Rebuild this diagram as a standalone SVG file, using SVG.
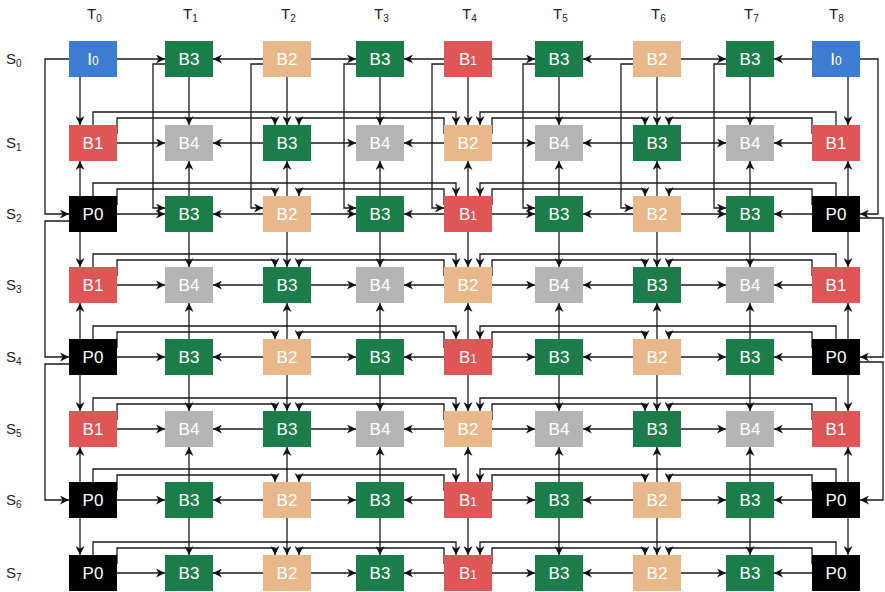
<svg xmlns="http://www.w3.org/2000/svg" width="885" height="592" viewBox="0 0 885 592">
<style>
.bg{fill:#fff}
.n text{fill:#fff;font-family:"Liberation Sans",Arial,sans-serif;font-size:17px;text-anchor:middle}
.n .s{font-size:12px}
.I rect{fill:#3c7dd1}.G rect{fill:#1b7e4a}.O rect{fill:#e8b78a}.R rect{fill:#e05555}.Y rect{fill:#b4b4b4}.K rect{fill:#000}
.lbl{fill:#222;font-family:"Liberation Sans",Arial,sans-serif;font-size:15px}
.lbl .sub{font-size:10px}
.c path{fill:none;stroke:#1a1a1a;stroke-width:1.3;marker-end:url(#a)}
</style>
<defs>
<marker id="a" viewBox="0 0 10 10" refX="10" refY="5" markerWidth="9" markerHeight="9" markerUnits="userSpaceOnUse" orient="auto"><path d="M0,0 L10,5 L0,10 L3,5 Z" fill="#111"/></marker>
</defs>
<rect class="bg" width="885" height="592"/>
<g id="labels" class="lbl">
<text x="87" y="19">T<tspan class="sub" dy="3">0</tspan></text>
<text x="183" y="19">T<tspan class="sub" dy="3">1</tspan></text>
<text x="281" y="19">T<tspan class="sub" dy="3">2</tspan></text>
<text x="374" y="19">T<tspan class="sub" dy="3">3</tspan></text>
<text x="462" y="19">T<tspan class="sub" dy="3">4</tspan></text>
<text x="553" y="19">T<tspan class="sub" dy="3">5</tspan></text>
<text x="651" y="19">T<tspan class="sub" dy="3">6</tspan></text>
<text x="744" y="19">T<tspan class="sub" dy="3">7</tspan></text>
<text x="829" y="19">T<tspan class="sub" dy="3">8</tspan></text>
<text x="6" y="64">S<tspan class="sub" dy="3">0</tspan></text>
<text x="6" y="148">S<tspan class="sub" dy="3">1</tspan></text>
<text x="6" y="219">S<tspan class="sub" dy="3">2</tspan></text>
<text x="6" y="290">S<tspan class="sub" dy="3">3</tspan></text>
<text x="6" y="362">S<tspan class="sub" dy="3">4</tspan></text>
<text x="6" y="434">S<tspan class="sub" dy="3">5</tspan></text>
<text x="6" y="505">S<tspan class="sub" dy="3">6</tspan></text>
<text x="6" y="578">S<tspan class="sub" dy="3">7</tspan></text>
</g>
<g id="connectors" class="c">
<path d="M117,59 H165"/><path d="M263,59 H213"/><path d="M311,59 H356"/><path d="M444,59 H404"/><path d="M492,59 H535"/><path d="M633,59 H583"/><path d="M681,59 H726"/><path d="M812,59 H774"/>
<path d="M117,143 H165"/><path d="M263,143 H213"/><path d="M311,143 H356"/><path d="M444,143 H404"/><path d="M492,143 H535"/><path d="M633,143 H583"/><path d="M681,143 H726"/><path d="M812,143 H774"/>
<path d="M117,214 H165"/><path d="M263,214 H213"/><path d="M311,214 H356"/><path d="M444,214 H404"/><path d="M492,214 H535"/><path d="M633,214 H583"/><path d="M681,214 H726"/><path d="M812,214 H774"/>
<path d="M117,285 H165"/><path d="M263,285 H213"/><path d="M311,285 H356"/><path d="M444,285 H404"/><path d="M492,285 H535"/><path d="M633,285 H583"/><path d="M681,285 H726"/><path d="M812,285 H774"/>
<path d="M117,357 H165"/><path d="M263,357 H213"/><path d="M311,357 H356"/><path d="M444,357 H404"/><path d="M492,357 H535"/><path d="M633,357 H583"/><path d="M681,357 H726"/><path d="M812,357 H774"/>
<path d="M117,429 H165"/><path d="M263,429 H213"/><path d="M311,429 H356"/><path d="M444,429 H404"/><path d="M492,429 H535"/><path d="M633,429 H583"/><path d="M681,429 H726"/><path d="M812,429 H774"/>
<path d="M117,500 H165"/><path d="M263,500 H213"/><path d="M311,500 H356"/><path d="M444,500 H404"/><path d="M492,500 H535"/><path d="M633,500 H583"/><path d="M681,500 H726"/><path d="M812,500 H774"/>
<path d="M117,573 H165"/><path d="M263,573 H213"/><path d="M311,573 H356"/><path d="M444,573 H404"/><path d="M492,573 H535"/><path d="M633,573 H583"/><path d="M681,573 H726"/><path d="M812,573 H774"/>
<path d="M80,77 V125"/><path d="M189,77 V125"/><path d="M287,77 V125"/><path d="M380,77 V125"/><path d="M468,77 V125"/><path d="M559,77 V125"/><path d="M657,77 V125"/><path d="M750,77 V125"/><path d="M848,77 V125"/>
<path d="M80,196 V161"/><path d="M189,196 V161"/><path d="M287,196 V161"/><path d="M380,196 V161"/><path d="M468,196 V161"/><path d="M559,196 V161"/><path d="M657,196 V161"/><path d="M750,196 V161"/><path d="M848,196 V161"/>
<path d="M80,232 V267"/><path d="M189,232 V267"/><path d="M287,232 V267"/><path d="M380,232 V267"/><path d="M468,232 V267"/><path d="M559,232 V267"/><path d="M657,232 V267"/><path d="M750,232 V267"/><path d="M848,232 V267"/>
<path d="M80,339 V303"/><path d="M189,339 V303"/><path d="M287,339 V303"/><path d="M380,339 V303"/><path d="M468,339 V303"/><path d="M559,339 V303"/><path d="M657,339 V303"/><path d="M750,339 V303"/><path d="M848,339 V303"/>
<path d="M80,375 V411"/><path d="M189,375 V411"/><path d="M287,375 V411"/><path d="M380,375 V411"/><path d="M468,375 V411"/><path d="M559,375 V411"/><path d="M657,375 V411"/><path d="M750,375 V411"/><path d="M848,375 V411"/>
<path d="M80,482 V447"/><path d="M189,482 V447"/><path d="M287,482 V447"/><path d="M380,482 V447"/><path d="M468,482 V447"/><path d="M559,482 V447"/><path d="M657,482 V447"/><path d="M750,482 V447"/><path d="M848,482 V447"/>
<path d="M80,518 V555"/><path d="M189,518 V555"/><path d="M287,518 V555"/><path d="M380,518 V555"/><path d="M468,518 V555"/><path d="M559,518 V555"/><path d="M657,518 V555"/><path d="M750,518 V555"/><path d="M848,518 V555"/>
<path d="M93,125 V112 H456 V125"/><path d="M836,125 V112 H480 V125"/><path d="M117,134 V118 H275 V125"/><path d="M444,134 V118 H299 V125"/><path d="M492,134 V118 H645 V125"/><path d="M812,134 V118 H669 V125"/>
<path d="M93,196 V183 H456 V196"/><path d="M836,196 V183 H480 V196"/><path d="M117,205 V189 H275 V196"/><path d="M444,205 V189 H299 V196"/><path d="M492,205 V189 H645 V196"/><path d="M812,205 V189 H669 V196"/>
<path d="M93,267 V254 H456 V267"/><path d="M836,267 V254 H480 V267"/><path d="M117,276 V260 H275 V267"/><path d="M444,276 V260 H299 V267"/><path d="M492,276 V260 H645 V267"/><path d="M812,276 V260 H669 V267"/>
<path d="M93,339 V326 H456 V339"/><path d="M836,339 V326 H480 V339"/><path d="M117,348 V332 H275 V339"/><path d="M444,348 V332 H299 V339"/><path d="M492,348 V332 H645 V339"/><path d="M812,348 V332 H669 V339"/>
<path d="M93,411 V398 H456 V411"/><path d="M836,411 V398 H480 V411"/><path d="M117,420 V404 H275 V411"/><path d="M444,420 V404 H299 V411"/><path d="M492,420 V404 H645 V411"/><path d="M812,420 V404 H669 V411"/>
<path d="M93,482 V469 H456 V482"/><path d="M836,482 V469 H480 V482"/><path d="M117,491 V475 H275 V482"/><path d="M444,491 V475 H299 V482"/><path d="M492,491 V475 H645 V482"/><path d="M812,491 V475 H669 V482"/>
<path d="M93,555 V542 H456 V555"/><path d="M836,555 V542 H480 V555"/><path d="M117,564 V548 H275 V555"/><path d="M444,564 V548 H299 V555"/><path d="M492,564 V548 H645 V555"/><path d="M812,564 V548 H669 V555"/>
<path d="M165,64 H153 V208 H165"/><path d="M263,64 H251 V208 H263"/><path d="M356,64 H344 V208 H356"/><path d="M444,64 H432 V208 H444"/><path d="M535,64 H523 V208 H535"/><path d="M633,64 H621 V208 H633"/><path d="M726,64 H714 V208 H726"/>
<path d="M69,59 H45 V214 H69"/><path d="M69,221 H45 V357 H69"/><path d="M69,364 H45 V500 H69"/>
<path d="M860,59 H878 V214 H860"/><path d="M860,218 H883 V357 H860"/><path d="M860,362 H883 V500 H860"/>
</g>
<g id="nodes">
<g id="S0T0" class="n I" transform="translate(69,41)"><rect width="48" height="36"/><text x="24" y="24">I<tspan class="s">0</tspan></text></g>
<g id="S0T1" class="n G" transform="translate(165,41)"><rect width="48" height="36"/><text x="24" y="24">B3</text></g>
<g id="S0T2" class="n O" transform="translate(263,41)"><rect width="48" height="36"/><text x="24" y="24">B2</text></g>
<g id="S0T3" class="n G" transform="translate(356,41)"><rect width="48" height="36"/><text x="24" y="24">B3</text></g>
<g id="S0T4" class="n R" transform="translate(444,41)"><rect width="48" height="36"/><text x="24" y="24">B<tspan class="s">1</tspan></text></g>
<g id="S0T5" class="n G" transform="translate(535,41)"><rect width="48" height="36"/><text x="24" y="24">B3</text></g>
<g id="S0T6" class="n O" transform="translate(633,41)"><rect width="48" height="36"/><text x="24" y="24">B2</text></g>
<g id="S0T7" class="n G" transform="translate(726,41)"><rect width="48" height="36"/><text x="24" y="24">B3</text></g>
<g id="S0T8" class="n I" transform="translate(812,41)"><rect width="48" height="36"/><text x="24" y="24">I<tspan class="s">0</tspan></text></g>
<g id="S1T0" class="n R" transform="translate(69,125)"><rect width="48" height="36"/><text x="24" y="24">B1</text></g>
<g id="S1T1" class="n Y" transform="translate(165,125)"><rect width="48" height="36"/><text x="24" y="24">B4</text></g>
<g id="S1T2" class="n G" transform="translate(263,125)"><rect width="48" height="36"/><text x="24" y="24">B3</text></g>
<g id="S1T3" class="n Y" transform="translate(356,125)"><rect width="48" height="36"/><text x="24" y="24">B4</text></g>
<g id="S1T4" class="n O" transform="translate(444,125)"><rect width="48" height="36"/><text x="24" y="24">B2</text></g>
<g id="S1T5" class="n Y" transform="translate(535,125)"><rect width="48" height="36"/><text x="24" y="24">B4</text></g>
<g id="S1T6" class="n G" transform="translate(633,125)"><rect width="48" height="36"/><text x="24" y="24">B3</text></g>
<g id="S1T7" class="n Y" transform="translate(726,125)"><rect width="48" height="36"/><text x="24" y="24">B4</text></g>
<g id="S1T8" class="n R" transform="translate(812,125)"><rect width="48" height="36"/><text x="24" y="24">B1</text></g>
<g id="S2T0" class="n K" transform="translate(69,196)"><rect width="48" height="36"/><text x="24" y="24">P0</text></g>
<g id="S2T1" class="n G" transform="translate(165,196)"><rect width="48" height="36"/><text x="24" y="24">B3</text></g>
<g id="S2T2" class="n O" transform="translate(263,196)"><rect width="48" height="36"/><text x="24" y="24">B2</text></g>
<g id="S2T3" class="n G" transform="translate(356,196)"><rect width="48" height="36"/><text x="24" y="24">B3</text></g>
<g id="S2T4" class="n R" transform="translate(444,196)"><rect width="48" height="36"/><text x="24" y="24">B<tspan class="s">1</tspan></text></g>
<g id="S2T5" class="n G" transform="translate(535,196)"><rect width="48" height="36"/><text x="24" y="24">B3</text></g>
<g id="S2T6" class="n O" transform="translate(633,196)"><rect width="48" height="36"/><text x="24" y="24">B2</text></g>
<g id="S2T7" class="n G" transform="translate(726,196)"><rect width="48" height="36"/><text x="24" y="24">B3</text></g>
<g id="S2T8" class="n K" transform="translate(812,196)"><rect width="48" height="36"/><text x="24" y="24">P0</text></g>
<g id="S3T0" class="n R" transform="translate(69,267)"><rect width="48" height="36"/><text x="24" y="24">B1</text></g>
<g id="S3T1" class="n Y" transform="translate(165,267)"><rect width="48" height="36"/><text x="24" y="24">B4</text></g>
<g id="S3T2" class="n G" transform="translate(263,267)"><rect width="48" height="36"/><text x="24" y="24">B3</text></g>
<g id="S3T3" class="n Y" transform="translate(356,267)"><rect width="48" height="36"/><text x="24" y="24">B4</text></g>
<g id="S3T4" class="n O" transform="translate(444,267)"><rect width="48" height="36"/><text x="24" y="24">B2</text></g>
<g id="S3T5" class="n Y" transform="translate(535,267)"><rect width="48" height="36"/><text x="24" y="24">B4</text></g>
<g id="S3T6" class="n G" transform="translate(633,267)"><rect width="48" height="36"/><text x="24" y="24">B3</text></g>
<g id="S3T7" class="n Y" transform="translate(726,267)"><rect width="48" height="36"/><text x="24" y="24">B4</text></g>
<g id="S3T8" class="n R" transform="translate(812,267)"><rect width="48" height="36"/><text x="24" y="24">B1</text></g>
<g id="S4T0" class="n K" transform="translate(69,339)"><rect width="48" height="36"/><text x="24" y="24">P0</text></g>
<g id="S4T1" class="n G" transform="translate(165,339)"><rect width="48" height="36"/><text x="24" y="24">B3</text></g>
<g id="S4T2" class="n O" transform="translate(263,339)"><rect width="48" height="36"/><text x="24" y="24">B2</text></g>
<g id="S4T3" class="n G" transform="translate(356,339)"><rect width="48" height="36"/><text x="24" y="24">B3</text></g>
<g id="S4T4" class="n R" transform="translate(444,339)"><rect width="48" height="36"/><text x="24" y="24">B<tspan class="s">1</tspan></text></g>
<g id="S4T5" class="n G" transform="translate(535,339)"><rect width="48" height="36"/><text x="24" y="24">B3</text></g>
<g id="S4T6" class="n O" transform="translate(633,339)"><rect width="48" height="36"/><text x="24" y="24">B2</text></g>
<g id="S4T7" class="n G" transform="translate(726,339)"><rect width="48" height="36"/><text x="24" y="24">B3</text></g>
<g id="S4T8" class="n K" transform="translate(812,339)"><rect width="48" height="36"/><text x="24" y="24">P0</text></g>
<g id="S5T0" class="n R" transform="translate(69,411)"><rect width="48" height="36"/><text x="24" y="24">B1</text></g>
<g id="S5T1" class="n Y" transform="translate(165,411)"><rect width="48" height="36"/><text x="24" y="24">B4</text></g>
<g id="S5T2" class="n G" transform="translate(263,411)"><rect width="48" height="36"/><text x="24" y="24">B3</text></g>
<g id="S5T3" class="n Y" transform="translate(356,411)"><rect width="48" height="36"/><text x="24" y="24">B4</text></g>
<g id="S5T4" class="n O" transform="translate(444,411)"><rect width="48" height="36"/><text x="24" y="24">B2</text></g>
<g id="S5T5" class="n Y" transform="translate(535,411)"><rect width="48" height="36"/><text x="24" y="24">B4</text></g>
<g id="S5T6" class="n G" transform="translate(633,411)"><rect width="48" height="36"/><text x="24" y="24">B3</text></g>
<g id="S5T7" class="n Y" transform="translate(726,411)"><rect width="48" height="36"/><text x="24" y="24">B4</text></g>
<g id="S5T8" class="n R" transform="translate(812,411)"><rect width="48" height="36"/><text x="24" y="24">B1</text></g>
<g id="S6T0" class="n K" transform="translate(69,482)"><rect width="48" height="36"/><text x="24" y="24">P0</text></g>
<g id="S6T1" class="n G" transform="translate(165,482)"><rect width="48" height="36"/><text x="24" y="24">B3</text></g>
<g id="S6T2" class="n O" transform="translate(263,482)"><rect width="48" height="36"/><text x="24" y="24">B2</text></g>
<g id="S6T3" class="n G" transform="translate(356,482)"><rect width="48" height="36"/><text x="24" y="24">B3</text></g>
<g id="S6T4" class="n R" transform="translate(444,482)"><rect width="48" height="36"/><text x="24" y="24">B<tspan class="s">1</tspan></text></g>
<g id="S6T5" class="n G" transform="translate(535,482)"><rect width="48" height="36"/><text x="24" y="24">B3</text></g>
<g id="S6T6" class="n O" transform="translate(633,482)"><rect width="48" height="36"/><text x="24" y="24">B2</text></g>
<g id="S6T7" class="n G" transform="translate(726,482)"><rect width="48" height="36"/><text x="24" y="24">B3</text></g>
<g id="S6T8" class="n K" transform="translate(812,482)"><rect width="48" height="36"/><text x="24" y="24">P0</text></g>
<g id="S7T0" class="n K" transform="translate(69,555)"><rect width="48" height="36"/><text x="24" y="24">P0</text></g>
<g id="S7T1" class="n G" transform="translate(165,555)"><rect width="48" height="36"/><text x="24" y="24">B3</text></g>
<g id="S7T2" class="n O" transform="translate(263,555)"><rect width="48" height="36"/><text x="24" y="24">B2</text></g>
<g id="S7T3" class="n G" transform="translate(356,555)"><rect width="48" height="36"/><text x="24" y="24">B3</text></g>
<g id="S7T4" class="n R" transform="translate(444,555)"><rect width="48" height="36"/><text x="24" y="24">B<tspan class="s">1</tspan></text></g>
<g id="S7T5" class="n G" transform="translate(535,555)"><rect width="48" height="36"/><text x="24" y="24">B3</text></g>
<g id="S7T6" class="n O" transform="translate(633,555)"><rect width="48" height="36"/><text x="24" y="24">B2</text></g>
<g id="S7T7" class="n G" transform="translate(726,555)"><rect width="48" height="36"/><text x="24" y="24">B3</text></g>
<g id="S7T8" class="n K" transform="translate(812,555)"><rect width="48" height="36"/><text x="24" y="24">P0</text></g>
</g>
</svg>
